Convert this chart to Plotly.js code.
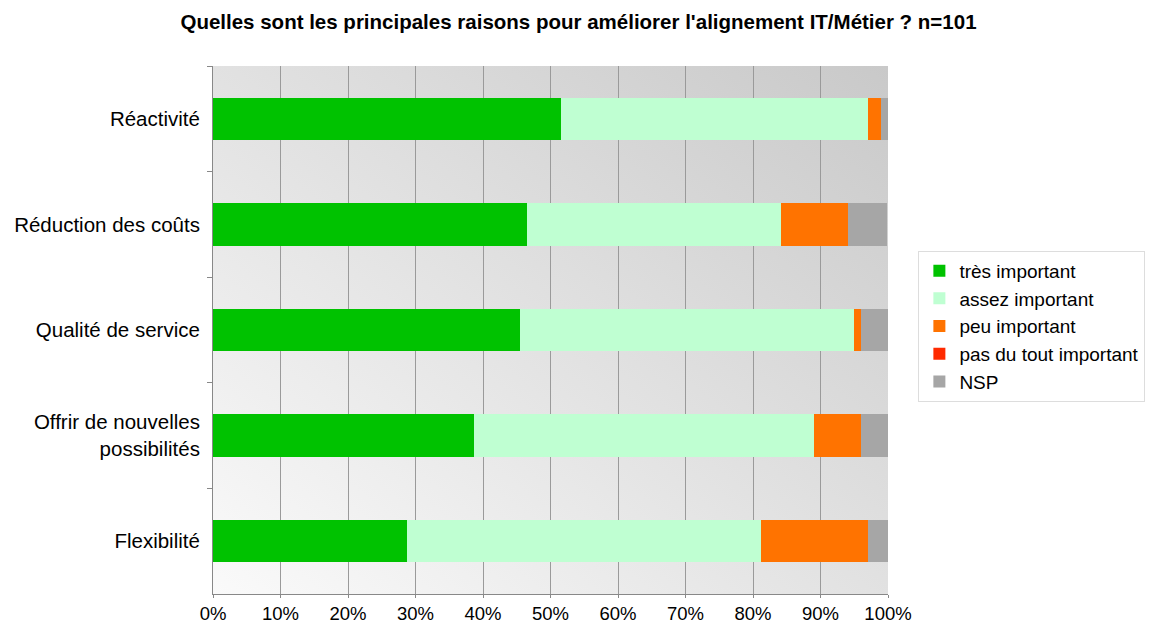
<!DOCTYPE html>
<html>
<head>
<meta charset="utf-8">
<script src="https://cdn.plot.ly/plotly-3.0.1.min.js"></script>
<style>html,body{margin:0;padding:0;background:#fff;}#chart{width:1157px;height:623px;}</style>
</head>
<body>
<div id="chart"></div>
<script>
const categories = ["Réactivité", "Réduction des coûts", "Qualité de service", "Offrir de nouvelles<br>possibilités", "Flexibilité"];
const tresImportant = [51.5, 46.5, 45.5, 38.6, 28.7];
const assezImportant = [45.5, 37.6, 49.5, 50.5, 52.5];
const peuImportant = [2.0, 9.9, 1.0, 6.9, 15.8];
const pasDuToutImportant = [0, 0, 0, 0, 0];
const nsp = [1.0, 5.9, 4.0, 4.0, 3.0];
const xTickVals = [0, 10, 20, 30, 40, 50, 60, 70, 80, 90, 100];
const xTickText = ["0%", "10%", "20%", "30%", "40%", "50%", "60%", "70%", "80%", "90%", "100%"];

const seriesNames = ["très important", "assez important", "peu important", "pas du tout important", "NSP"];
const seriesValues = [tresImportant, assezImportant, peuImportant, pasDuToutImportant, nsp];
const seriesColors = ["#00c200", "#bfffd2", "#ff7300", "#ff2a00", "#a6a6a6"];

const traces = seriesNames.map((n, i) => ({
  type: "bar",
  orientation: "h",
  name: n,
  y: categories,
  x: seriesValues[i],
  marker: {color: seriesColors[i], line: {width: 0}},
  width: 0.4,
  hoverinfo: "x+name"
}));

const bgSvg = '<svg xmlns="http://www.w3.org/2000/svg" width="100" height="100" preserveAspectRatio="none">' +
  '<defs><linearGradient id="g" x1="0" y1="1" x2="1" y2="0">' +
  '<stop offset="0" stop-color="#fafafa"/><stop offset="1" stop-color="#c9c9c9"/></linearGradient></defs>' +
  '<rect width="100" height="100" fill="url(#g)"/></svg>';

const layout = {
  width: 1157,
  height: 623,
  barmode: "stack",
  paper_bgcolor: "#ffffff",
  plot_bgcolor: "rgba(0,0,0,0)",
  margin: {l: 213, r: 269, t: 66, b: 29, pad: 0, autoexpand: false},
  font: {family: "Liberation Sans, Arial, sans-serif", color: "#000"},
  title: {
    text: "<b>Quelles sont les principales raisons pour améliorer l'alignement IT/Métier ? n=101</b>",
    font: {size: 20.5, family: "Liberation Sans, Arial, sans-serif", color: "#000"},
    x: 0.5, xref: "container", xanchor: "center",
    y: 0.965, yref: "container", yanchor: "middle"
  },
  xaxis: {
    range: [0, 100],
    tickvals: xTickVals,
    ticktext: xTickText,
    showgrid: true,
    gridcolor: "#9a9a9a",
    gridwidth: 1,
    zeroline: false,
    showline: true,
    linecolor: "#888",
    ticks: "outside",
    ticklen: 3,
    tickcolor: "#888",
    tickfont: {size: 18.5},
    fixedrange: true
  },
  yaxis: {
    type: "category",
    categoryorder: "array",
    categoryarray: categories,
    autorange: "reversed",
    showgrid: false,
    zeroline: false,
    showline: true,
    linecolor: "#888",
    ticks: "outside",
    tickson: "boundaries",
    ticklen: 5,
    tickcolor: "#888",
    tickfont: {size: 20.5},
    ticklabelstandoff: 8,
    fixedrange: true
  },
  legend: {
    x: 1.045, xanchor: "left",
    y: 0.65, yanchor: "top",
    bgcolor: "#ffffff",
    bordercolor: "#dddddd",
    borderwidth: 1,
    font: {size: 19},
    traceorder: "normal",
    itemsizing: "constant",
    tracegroupgap: 0
  },
  images: [{
    source: "data:image/svg+xml;base64," + btoa(bgSvg),
    xref: "paper", yref: "paper",
    x: 0, y: 1, sizex: 1, sizey: 1,
    xanchor: "left", yanchor: "top",
    sizing: "stretch",
    layer: "below"
  }],
  bargap: 0.6,
  showlegend: true
};

Plotly.newPlot("chart", traces, layout, {displayModeBar: false, staticPlot: true});
</script>
</body>
</html>
